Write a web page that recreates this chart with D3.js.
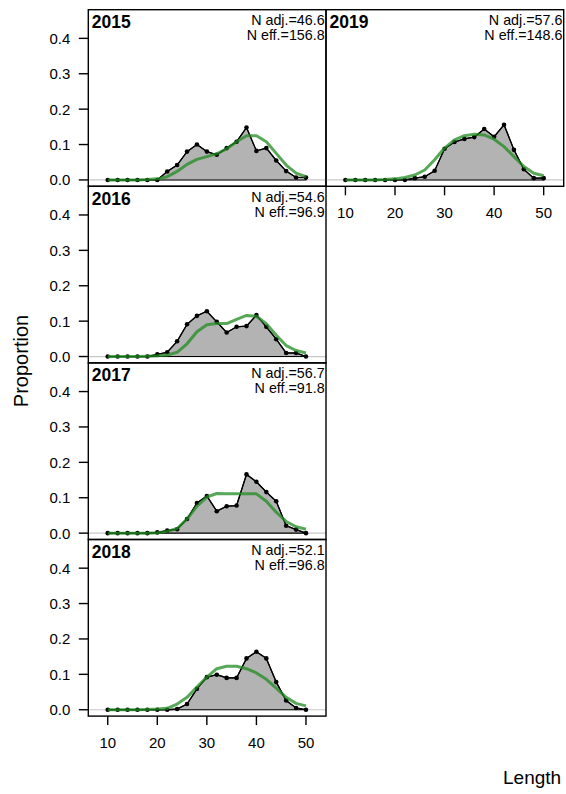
<!DOCTYPE html>
<html>
<head>
<meta charset="utf-8">
<script src="https://cdn.jsdelivr.net/npm/d3@7"></script>
<style>
  html, body { margin: 0; padding: 0; background: #fff; }
  svg { display: block; font-family: "Liberation Sans", Arial, sans-serif; }
</style>
</head>
<body>
<svg id="chart" width="566" height="794"></svg>
<script>
// ---- data ----
const bins = [10, 12, 14, 16, 18, 20, 22, 24, 26, 28, 30, 32, 34, 36, 38, 40, 42, 44, 46, 48, 50];
const years = ["2015", "2016", "2017", "2018", "2019"];
const nAdj = ["46.6", "54.6", "56.7", "52.1", "57.6"];
const nEff = ["156.8", "96.9", "91.8", "96.8", "148.6"];

const obs2015 = [0, 0, 0, 0, 0, 0, 0.024, 0.042, 0.080, 0.100, 0.080, 0.071, 0.090, 0.108, 0.148, 0.082, 0.090, 0.055, 0.025, 0.007, 0.007];
const exp2015 = [0, 0, 0, 0, 0.001, 0.003, 0.009, 0.024, 0.044, 0.058, 0.066, 0.074, 0.088, 0.108, 0.125, 0.125, 0.108, 0.075, 0.042, 0.019, 0.009];
const obs2016 = [0, 0, 0, 0, 0, 0.006, 0.012, 0.043, 0.091, 0.115, 0.128, 0.098, 0.068, 0.084, 0.086, 0.117, 0.084, 0.049, 0.010, 0.010, 0];
const exp2016 = [0, 0, 0, 0, 0.001, 0.002, 0.004, 0.012, 0.036, 0.070, 0.090, 0.093, 0.093, 0.105, 0.116, 0.114, 0.093, 0.060, 0.031, 0.017, 0.010];
const obs2017 = [0, 0, 0, 0, 0, 0.002, 0.007, 0.011, 0.040, 0.085, 0.105, 0.062, 0.076, 0.078, 0.166, 0.145, 0.116, 0.090, 0.021, 0.010, 0];
const exp2017 = [0, 0, 0, 0, 0, 0.001, 0.005, 0.013, 0.040, 0.076, 0.102, 0.112, 0.111, 0.111, 0.111, 0.111, 0.090, 0.059, 0.033, 0.018, 0.011];
const obs2018 = [0, 0, 0, 0, 0, 0, 0, 0.002, 0.016, 0.059, 0.092, 0.099, 0.090, 0.090, 0.145, 0.164, 0.145, 0.078, 0.026, 0.005, 0];
const exp2018 = [0, 0, 0, 0, 0.001, 0.002, 0.004, 0.016, 0.035, 0.064, 0.092, 0.116, 0.123, 0.123, 0.116, 0.104, 0.086, 0.061, 0.035, 0.018, 0.011];
const obs2019 = [0, 0, 0, 0, 0, 0, 0, 0.005, 0.009, 0.026, 0.088, 0.107, 0.116, 0.121, 0.144, 0.122, 0.156, 0.085, 0.030, 0.005, 0.005];
const exp2019 = [0, 0, 0, 0, 0.001, 0.003, 0.007, 0.014, 0.028, 0.057, 0.090, 0.113, 0.125, 0.129, 0.127, 0.115, 0.094, 0.066, 0.038, 0.019, 0.012];

const observed = [obs2015, obs2016, obs2017, obs2018, obs2019];
const expected = [exp2015, exp2016, exp2017, exp2018, exp2019];
const yTicks = [0.0, 0.1, 0.2, 0.3, 0.4];
const xTicks = [10, 20, 30, 40, 50];

// ---- layout ----
const svg = d3.select("#chart");
const panelTop = 9.7, panelH = 176.6, panelW = 237.7;
const colX = [88.3, 326.0];
// panel positions: col, row
const pos = [[0, 0], [0, 1], [0, 2], [0, 3], [1, 0]];

const x = d3.scaleLinear().domain([6.08, 54.04]).range([0, panelW]);
const y = d3.scaleLinear().domain([-0.018, 0.481]).range([panelH, 0]);

const green = "#228b22";

years.forEach((yr, i) => {
  const [c, r] = pos[i];
  const g = svg.append("g").attr("transform", `translate(${colX[c]},${panelTop + r * panelH})`);

  // zero line
  g.append("line")
    .attr("x1", 0).attr("x2", panelW)
    .attr("y1", y(0)).attr("y2", y(0))
    .attr("stroke", "#c8c8c8").attr("stroke-width", 1.2);

  const obs = observed[i], ex = expected[i];
  const pts = bins.map((b, k) => [b, obs[k]]);

  // polygon
  const poly = [[bins[0], 0], ...pts, [bins[bins.length - 1], 0]];
  g.append("path")
    .attr("d", d3.line().x(d => x(d[0])).y(d => y(d[1]))(poly) + "Z")
    .attr("fill", "#b3b3b3").attr("stroke", "#000").attr("stroke-width", 1.1);

  // observed line
  g.append("path")
    .attr("d", d3.line().x(d => x(d[0])).y(d => y(d[1]))(pts))
    .attr("fill", "none").attr("stroke", "#000").attr("stroke-width", 1.3);

  g.selectAll("circle.obs").data(pts).enter().append("circle")
    .attr("cx", d => x(d[0])).attr("cy", d => y(d[1]))
    .attr("r", 2.3).attr("fill", "#000");

  // expected line
  g.append("path")
    .attr("d", d3.line().x((d, k) => x(bins[k])).y(d => y(d))(ex))
    .attr("fill", "none").attr("stroke", green).attr("stroke-opacity", 0.75)
    .attr("stroke-width", 3).attr("stroke-linejoin", "round");

  // frame
  g.append("rect")
    .attr("x", 0).attr("y", 0).attr("width", panelW).attr("height", panelH)
    .attr("fill", "none").attr("stroke", "#000").attr("stroke-width", 1.4);

  // labels
  g.append("text").attr("x", 3.5).attr("y", 18.6)
    .attr("font-size", 17.5).attr("font-weight", "bold").attr("fill", "#000").text(yr);
  g.append("text").attr("x", panelW - 1.3).attr("y", 15.6)
    .attr("text-anchor", "end").attr("font-size", 14.3).attr("fill", "#000").text("N adj.=" + nAdj[i]);
  g.append("text").attr("x", panelW - 1.3).attr("y", 30.4)
    .attr("text-anchor", "end").attr("font-size", 14.3).attr("fill", "#000").text("N eff.=" + nEff[i]);

  // y axis on left column
  if (c === 0) {
    const ya = g.append("g");
    yTicks.forEach(t => {
      ya.append("line").attr("x1", -9.5).attr("x2", 0).attr("y1", y(t)).attr("y2", y(t))
        .attr("stroke", "#000").attr("stroke-width", 1.4);
      ya.append("text").attr("x", -18).attr("y", y(t)).attr("dy", "0.36em")
        .attr("text-anchor", "end").attr("font-size", 15).attr("fill", "#000")
        .text(d3.format(".1f")(t));
    });
  }
  // x axis on bottom panels
  if (i === 3 || i === 4) {
    const xa = g.append("g");
    xTicks.forEach(t => {
      xa.append("line").attr("x1", x(t)).attr("x2", x(t)).attr("y1", panelH).attr("y2", panelH + 9)
        .attr("stroke", "#000").attr("stroke-width", 1.4);
      xa.append("text").attr("x", x(t)).attr("y", panelH + 32)
        .attr("text-anchor", "middle").attr("font-size", 15).attr("fill", "#000").text(t);
    });
  }
});

// axis titles
svg.append("text")
  .attr("transform", "translate(28,361) rotate(-90)")
  .attr("text-anchor", "middle").attr("font-size", 20).attr("fill", "#000").text("Proportion");
svg.append("text")
  .attr("x", 503).attr("y", 784)
  .attr("font-size", 19).attr("fill", "#000").text("Length");
</script>
</body>
</html>
